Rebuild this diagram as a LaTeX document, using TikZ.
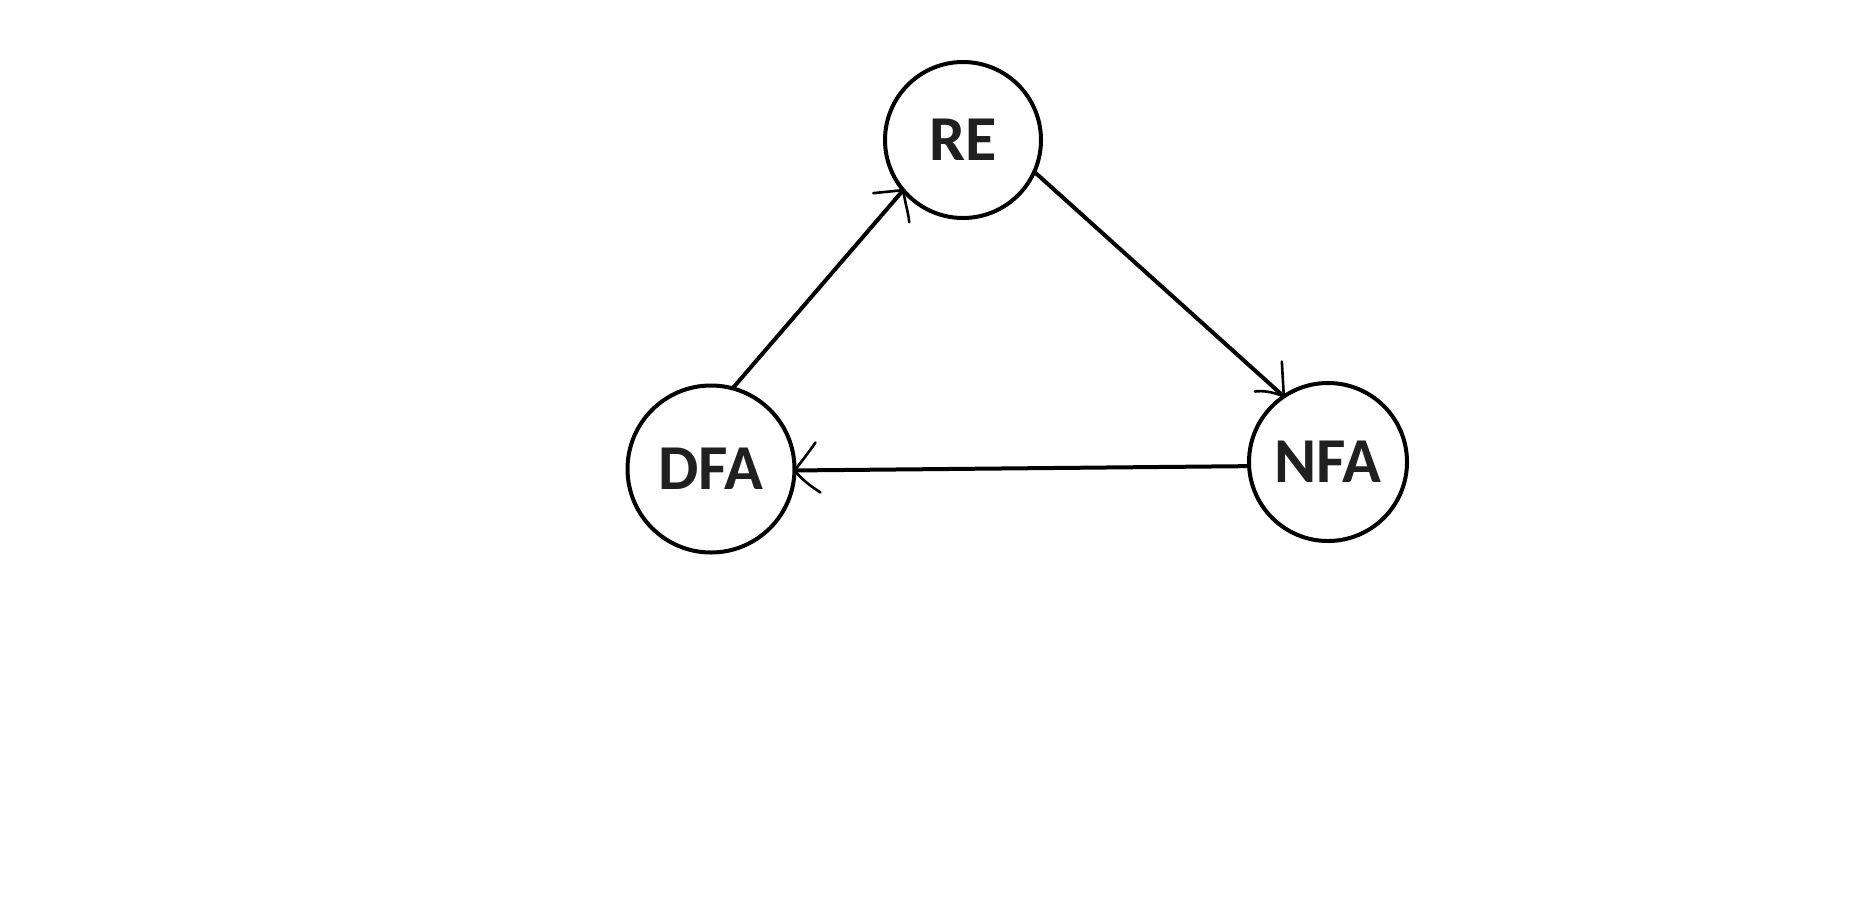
\documentclass[tikz,border=0pt]{standalone}
\usepackage{fontspec}
\setmainfont{Carlito}
\definecolor{labelgray}{RGB}{32,32,32}
\begin{document}
\begin{tikzpicture}[x=1pt,y=-1pt,
  state/.style={circle,draw=black,line width=4pt,inner sep=0pt,outer sep=0pt,
    font=\fontsize{64}{64}\selectfont\bfseries,text=labelgray},
  edge/.style={draw=black,line width=4pt},
  headstroke/.style={draw=black,line width=2.6pt,line cap=round}]
\useasboundingbox[fill=white] (0,0) rectangle (1871,922);
\node[state,minimum size=156pt] (RE)  at (963,140) {RE};
\node[state,minimum size=167pt] (DFA) at (711,469) {DFA};
\node[state,minimum size=158pt] (NFA) at (1328,462) {NFA};
% DFA -> RE
\draw[edge] (DFA.75) -- (RE.220);
\draw[headstroke] (RE.220) -- ++(-30,3);
\draw[headstroke] (RE.220) .. controls ++(2,14) and ++(-1,-10) .. ++(6,32);
% RE -> NFA
\draw[edge] (RE.-24) -- (NFA.124);
\draw[headstroke] (NFA.124) -- ++(-2,-35);
\draw[headstroke] (NFA.124) .. controls ++(-12,-5) and ++(8,-1) .. ++(-29,-5);
% NFA -> DFA
\draw[edge] (NFA.183.5) -- (DFA.-1.3);
\draw[headstroke] (DFA.-1.3) .. controls ++(8,-10) and ++(-4,6) .. ++(21,-28);
\draw[headstroke] (DFA.-1.3) .. controls ++(10,12) and ++(-6,-4) .. ++(26,22);
\end{tikzpicture}
\end{document}
